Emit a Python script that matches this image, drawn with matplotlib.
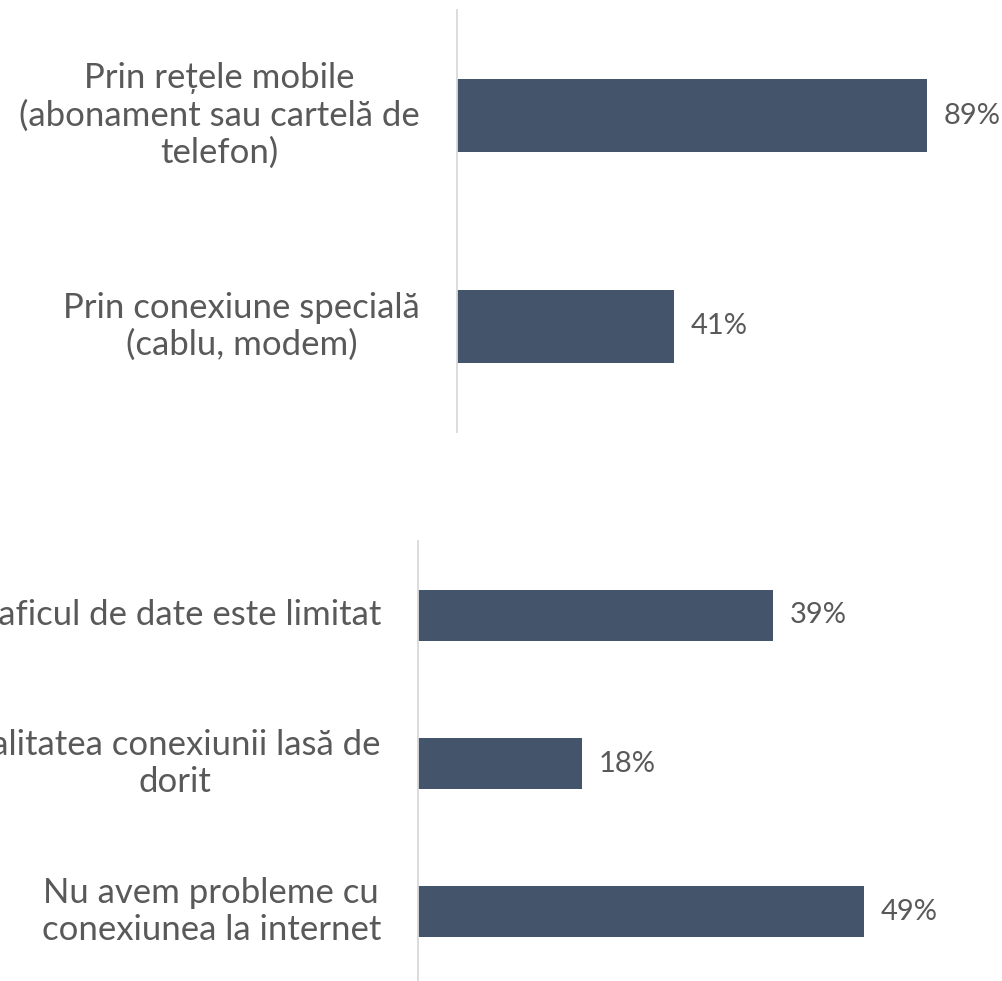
import matplotlib.pyplot as plt
from matplotlib.transforms import ScaledTranslation

plt.rcParams['font.family'] = ['Lato', 'DejaVu Sans']

# date
conn_labels = ['Prin rețele mobile\n(abonament sau cartelă de\ntelefon)',
               'Prin conexiune specială\n(cablu, modem)']
conn_values = [89, 41]

prob_labels = ['Traficul de date este limitat',
               'Calitatea conexiunii lasă de\ndorit',
               'Nu avem probleme cu\nconexiunea la internet']
prob_values = [39, 18, 49]

bar_color = '#44546A'
text_color = '#595959'
axis_color = '#D9D9D9'

W, H = 1003, 981
fig = plt.figure(figsize=(W / 100, H / 100), dpi=100)


def draw(ax, labels, values, xmax, height):
    pos = list(range(len(values)))
    bars = ax.barh(pos, values, height=height, color=bar_color)
    ax.set_ylim(len(values) - 0.5, -0.5)
    ax.set_xlim(0, xmax)
    ax.set_yticks([])
    ax.set_xticks([])
    # etichete categorii, centrate pe linii, aliniate la dreapta
    tr = ax.get_yaxis_transform() + ScaledTranslation(-0.37, 0, fig.dpi_scale_trans)
    for p, lab in zip(pos, labels):
        ax.text(0, p, lab, transform=tr, ha='right', va='center',
                multialignment='center', fontsize=25, color=text_color,
                linespacing=1.2, clip_on=False)
    for s in ['top', 'right', 'bottom']:
        ax.spines[s].set_visible(False)
    ax.spines['left'].set_color(axis_color)
    ax.spines['left'].set_linewidth(1.3)
    ax.bar_label(bars, labels=[f'{v}%' for v in values], padding=12,
                 fontsize=21, color=text_color)


ax1 = fig.add_axes([457 / W, (H - 432) / H, (W - 457) / W, 422 / H])
draw(ax1, conn_labels, conn_values, 546 / 5.285, 0.35)

ax2 = fig.add_axes([418 / W, (H - 986) / H, (W - 418) / W, 445 / H])
draw(ax2, prob_labels, prob_values, 585 / 9.11, 0.345)

fig.savefig('out.png', dpi=100)
